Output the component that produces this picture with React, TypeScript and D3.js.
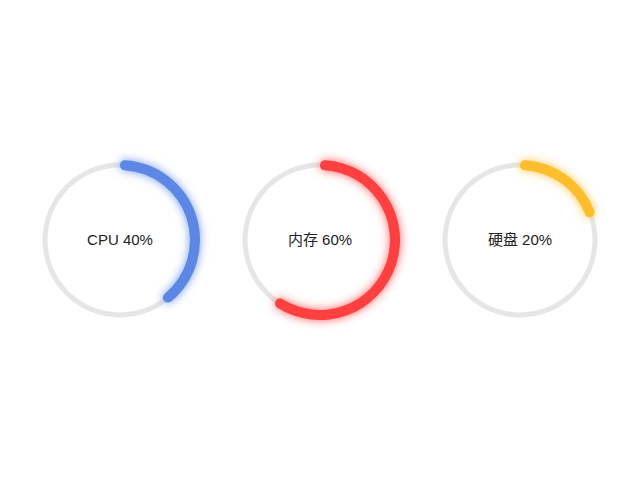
import { useEffect, useRef } from 'react';
import * as d3 from 'd3';

const names = ['CPU', '内存', '硬盘'];
const values = [40, 60, 20];
const colors = ['#5b87e5', '#ff3f3f', '#fdbe2d'];

export default function App() {
  const svgRef = useRef<SVGSVGElement>(null);

  useEffect(() => {
    if (!svgRef.current) return;
    const width = 640;
    const height = 480;
    const svg = d3.select(svgRef.current);
    svg.selectAll('*').remove();
    svg.attr('width', width).attr('height', height);

    const x = d3.scalePoint<string>().domain(names).range([0, width]).padding(0.6);
    const angle = d3.scaleLinear().domain([0, 100]).range([0, Math.PI * 2]);
    const cy = height / 2;
    const radius = 75;

    // glow filters
    const defs = svg.append('defs');
    names.forEach((n, i) => {
      const f = defs.append('filter')
        .attr('id', `glow${i}`)
        .attr('x', '-50%').attr('y', '-50%')
        .attr('width', '200%').attr('height', '200%');
      f.append('feDropShadow')
        .attr('dx', 0).attr('dy', 0)
        .attr('stdDeviation', 5)
        .attr('flood-color', colors[i])
        .attr('flood-opacity', 0.85);
    });

    const track = d3.arc()
      .innerRadius(radius - 2.5)
      .outerRadius(radius + 2.5)
      .startAngle(0)
      .endAngle(Math.PI * 2);

    names.forEach((n, i) => {
      const g = svg.append('g')
        .attr('transform', `translate(${x(n)}, ${cy})`);

      g.append('path')
        .attr('d', track({} as any))
        .attr('fill', '#e6e6e6');

      const valueArc = d3.arc()
        .innerRadius(radius - 5)
        .outerRadius(radius + 5)
        .cornerRadius(5)
        .startAngle(0)
        .endAngle(angle(values[i]));

      g.append('path')
        .attr('d', valueArc({} as any))
        .attr('fill', colors[i])
        .attr('filter', `url(#glow${i})`);

      g.append('text')
        .attr('text-anchor', 'middle')
        .attr('dy', '0.35em')
        .attr('font-family', 'Liberation Sans, Arial, "Noto Sans CJK SC", sans-serif')
        .attr('font-size', '15px')
        .attr('fill', '#222')
        .text(`${n} ${values[i]}%`);
    });
  }, []);

  return (
    <svg ref={svgRef} style={{ position: 'absolute', left: 0, top: 0, background: '#fff' }}></svg>
  );
}
